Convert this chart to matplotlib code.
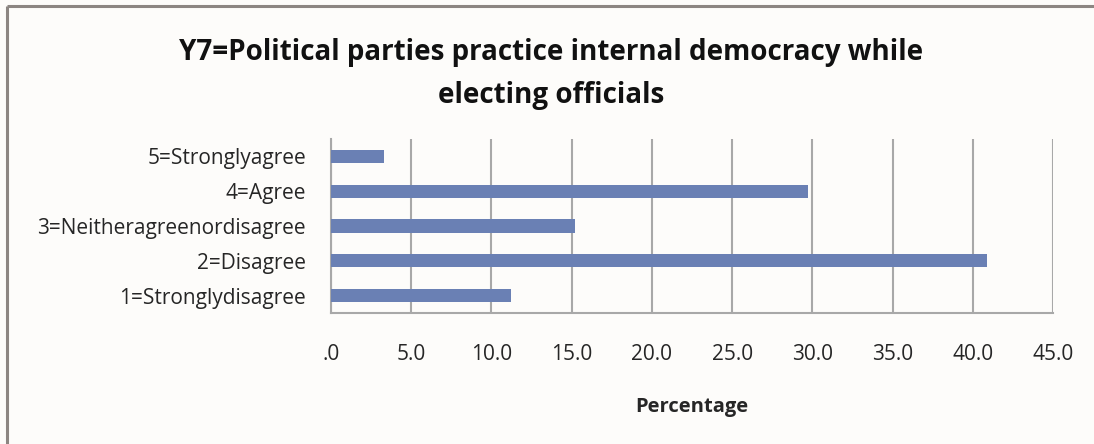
import matplotlib
matplotlib.use("Agg")
import matplotlib.pyplot as plt
from matplotlib.ticker import FuncFormatter, MultipleLocator

# Survey responses (percent of respondents)
categories = [
    "1=Stronglydisagree",
    "2=Disagree",
    "3=Neitheragreenordisagree",
    "4=Agree",
    "5=Stronglyagree",
]
percentages = [11.2, 40.9, 15.2, 29.7, 3.3]

title_text = "Y7=Political parties practice internal democracy while\nelecting officials"
x_label = "Percentage"

BAR_COLOR = "#6a80b4"
GRID_COLOR = "#a8a8a8"
TEXT_COLOR = "#262626"
BG_COLOR = "#fdfcfa"

plt.rcParams["font.family"] = ["Open Sans", "DejaVu Sans"]

fig = plt.figure(figsize=(10.94, 4.44), dpi=100, facecolor=BG_COLOR)

# chart frame (top and left edges visible)
fig.add_artist(plt.Line2D([6.5 / 1094, 1.0], [1 - 6.5 / 444] * 2,
                          transform=fig.transFigure, color="#8c8682", lw=2.2,
                          solid_capstyle="butt"))
fig.add_artist(plt.Line2D([6.5 / 1094] * 2, [0.0, 1 - 6.5 / 444],
                          transform=fig.transFigure, color="#8c8682", lw=2.2,
                          solid_capstyle="butt"))

ax = fig.add_axes([331 / 1094, 1 - 313 / 444, (1053 - 331) / 1094, (313 - 139) / 444])
ax.set_facecolor(BG_COLOR)

y = list(range(len(categories)))
ax.barh(y, percentages, height=0.38, color=BAR_COLOR, zorder=3)

ax.set_xlim(0, 45)
ax.set_ylim(-0.5, len(categories) - 0.5)
ax.xaxis.set_major_locator(MultipleLocator(5))
ax.xaxis.set_major_formatter(FuncFormatter(lambda v, p: ".0" if v == 0 else f"{v:.1f}"))
ax.grid(axis="x", color=GRID_COLOR, lw=1.5, zorder=1)
ax.set_yticks(y)
ax.set_yticklabels(categories)

for side in ("top", "right"):
    ax.spines[side].set_visible(False)
for side in ("left", "bottom"):
    ax.spines[side].set_color(GRID_COLOR)
    ax.spines[side].set_linewidth(1.5)

ax.tick_params(axis="x", length=0, pad=22, labelsize=15, labelcolor=TEXT_COLOR)
ax.tick_params(axis="y", length=0, pad=18, labelsize=15, labelcolor=TEXT_COLOR)

ax.set_xlabel(x_label, fontsize=14.5, fontweight="bold", color=TEXT_COLOR, labelpad=23)

fig.text(551 / 1094, 1 - 74 / 444, title_text, ha="center", va="center",
         fontsize=20, fontweight="bold", color="#111111", linespacing=1.6)

fig.savefig("out.png", dpi=100, facecolor=BG_COLOR)
